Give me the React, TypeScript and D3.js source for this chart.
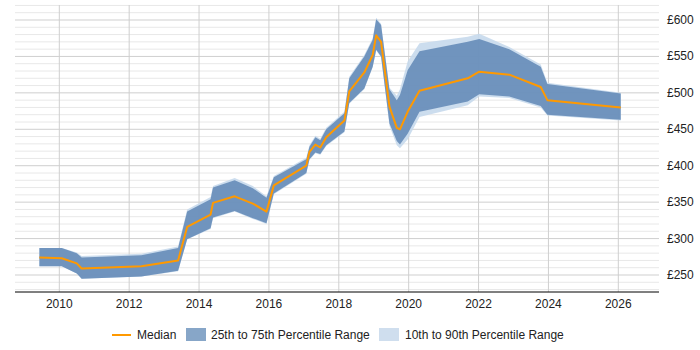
import React from "react";
import * as d3 from "d3";

// sample dates (decimal years) and pay percentiles in £
const years = [
  2009.43, 2010.07, 2010.5, 2010.64, 2012.35, 2013.4, 2013.66, 2014.33, 2014.4,
  2015.02, 2015.54, 2015.93, 2016.14, 2017.07, 2017.16, 2017.33, 2017.47,
  2017.64, 2018.16, 2018.3, 2018.73, 2018.97, 2019.07, 2019.21, 2019.45,
  2019.66, 2019.75, 2019.97, 2020.31, 2021.69, 2022.02, 2022.88, 2023.78,
  2023.97, 2026.07,
];
const median = [
  274, 273, 266, 259, 262, 270, 316, 333, 349, 358, 348, 337, 373, 400, 419,
  429, 425, 439, 462, 502, 528, 552, 579, 570, 481, 452, 450, 474, 503, 520,
  529, 525, 508, 490, 480,
];
const p25 = [
  262, 262, 252, 245, 248, 256, 299, 314, 329, 338, 328, 321, 362, 390, 409,
  418, 416, 428, 447, 486, 506, 536, 559, 550, 458, 434, 429, 444, 474, 488,
  498, 495, 482, 470, 463,
];
const p75 = [
  287, 287, 280, 274, 277, 287, 337, 354, 370, 380, 369, 356, 384, 409, 426,
  439, 435, 450, 472, 520, 550, 573, 601, 593, 505, 490, 497, 531, 557, 570,
  574, 560, 536, 512, 499,
];
const p10 = [
  262, 262, 252, 245, 248, 255, 299, 313, 328, 337, 327, 320, 361, 389, 408,
  417, 415, 427, 446, 485, 505, 535, 558, 549, 455, 428, 424, 436, 467, 483,
  495, 493, 480, 469, 462,
];
const p90 = [
  287, 287, 281, 276, 279, 289, 340, 357, 372, 383, 372, 358, 386, 411, 428,
  441, 437, 452, 474, 522, 552, 575, 603, 595, 507, 496, 505, 543, 568, 577,
  581, 563, 539, 514, 500,
];
const xTicks = [2010, 2012, 2014, 2016, 2018, 2020, 2022, 2024, 2026];
const yTicks = [250, 300, 350, 400, 450, 500, 550, 600];

const W = 700;
const H = 350;
const plot = { left: 15, right: 659, top: 5, bottom: 292 };
const font = "'Liberation Sans', Arial, sans-serif";

const x = d3.scaleLinear().domain([2010, 2026]).range([59.3, 618.3]);
const y = d3.scaleLinear().domain([250, 600]).range([275, 20]);

const rows = years.map((yr, i) => ({
  yr,
  med: median[i],
  lo: p25[i],
  hi: p75[i],
  lo10: p10[i],
  hi90: p90[i],
}));

type Row = (typeof rows)[number];

const outer = d3
  .area<Row>()
  .x((d) => x(d.yr))
  .y0((d) => y(d.lo10))
  .y1((d) => y(d.hi90));
const inner = d3
  .area<Row>()
  .x((d) => x(d.yr))
  .y0((d) => y(d.lo))
  .y1((d) => y(d.hi));
const line = d3
  .line<Row>()
  .x((d) => x(d.yr))
  .y((d) => y(d.med));

export default function App() {
  const vMin = y.invert(plot.bottom);
  const vMax = y.invert(plot.top);
  const minor = d3.range(Math.ceil(vMin / 10) * 10, vMax, 10);

  return (
    <svg
      width={W}
      height={H}
      style={{ position: "absolute", left: 0, top: 0, background: "#fff" }}
      fontFamily={font}
    >
      {/* horizontal grid: every £10, darker at £50 */}
      {minor.map((v) => (
        <line
          key={v}
          x1={plot.left}
          x2={plot.right}
          y1={y(v)}
          y2={y(v)}
          stroke={v % 50 === 0 ? "#cfcfcf" : "#e8e8e8"}
          strokeWidth={1}
        />
      ))}
      {xTicks.map((t) => (
        <line
          key={t}
          x1={x(t)}
          x2={x(t)}
          y1={plot.top}
          y2={plot.bottom}
          stroke="#cfcfcf"
        />
      ))}

      <path d={outer(rows) ?? ""} fill="#c6d9ec" opacity={0.9} />
      <path d={inner(rows) ?? ""} fill="#6a8fba" opacity={0.95} />
      <path
        d={line(rows) ?? ""}
        fill="none"
        stroke="#ff9900"
        strokeWidth={2}
        strokeLinejoin="round"
      />

      <line
        x1={plot.left}
        x2={plot.right}
        y1={plot.bottom}
        y2={plot.bottom}
        stroke="#000"
      />
      {xTicks.map((t) => (
        <text
          key={t}
          x={x(t)}
          y={308}
          textAnchor="middle"
          fontSize={12}
          fill="#222"
        >
          {t}
        </text>
      ))}
      {yTicks.map((t) => (
        <text
          key={t}
          x={667}
          y={y(t) + 4}
          fontSize={12}
          fill="#222"
        >
          £{t}
        </text>
      ))}

      {/* legend */}
      <g fontSize={12} fill="#222">
        <line x1={112} x2={131} y1={335} y2={335} stroke="#ff9900" strokeWidth={2} />
        <text x={137} y={339}>Median</text>
        <rect x={186} y={328} width={20} height={13} fill="#87a6c8" />
        <text x={211} y={339}>25th to 75th Percentile Range</text>
        <rect x={379} y={328} width={20} height={13} fill="#cfdeee" />
        <text x={405} y={339}>10th to 90th Percentile Range</text>
      </g>
    </svg>
  );
}
